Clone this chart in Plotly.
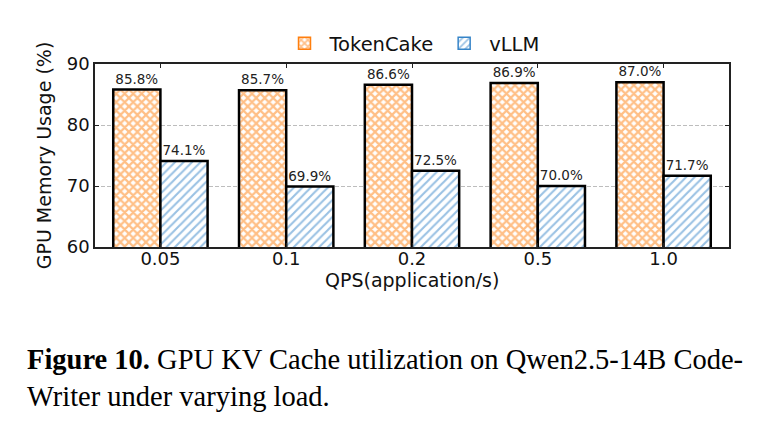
import plotly.graph_objects as go

qps = ["0.05", "0.1", "0.2", "0.5", "1.0"]
tokencake = [85.8, 85.7, 86.6, 86.9, 87.0]
vllm = [74.1, 69.9, 72.5, 70.0, 71.7]

ORANGE = "#ff7f0e"
BLUE = "#3584c8"
FONT = "DejaVu Sans"

fig = go.Figure()

series = [
    ("TokenCake", tokencake, ORANGE, "x", 6, 0.6),
    ("vLLM", vllm, BLUE, "/", 6, 0.35),
]

for name, vals, color, shape, size, sol in series:
    pat = dict(shape=shape, fgcolor=color, bgcolor="white",
               size=size, solidity=sol, fillmode="overlay")
    fig.add_trace(go.Bar(
        name=name, x=qps, y=vals, offsetgroup=name, showlegend=False,
        marker=dict(color="white", line=dict(color="black", width=2.5), pattern=pat),
        texttemplate="%{y:.1f}%", textposition="outside", cliponaxis=False,
        textfont=dict(family=FONT, size=13.5, color="#222"),
    ))
    # legend entry with coloured outline, like the reference
    fig.add_trace(go.Bar(
        name=name, x=[qps[0]], y=[None], offsetgroup=name, showlegend=True,
        marker=dict(color="white", line=dict(color=color, width=1.5), pattern=pat),
    ))

# page has an 8px body margin, so the figure is 8px smaller each way
fig.update_layout(
    width=769, height=421,
    margin=dict(l=87, r=48, t=56, b=182),
    paper_bgcolor="white", plot_bgcolor="white",
    barmode="group", bargap=0.25, bargroupgap=0,
    font=dict(family=FONT, size=18, color="#111"),
    legend=dict(orientation="h", x=0.5, xanchor="center", y=1.005, yanchor="bottom",
                font=dict(size=19.5), itemwidth=40, bgcolor="rgba(0,0,0,0)"),
    xaxis=dict(
        range=[-0.52, 4.52], automargin=False,
        ticks="inside", ticklen=4, tickcolor="#222", ticklabelstandoff=-5,
        showline=True, linecolor="#222", linewidth=1.5, mirror="ticks",
        tickfont=dict(size=18),
    ),
    yaxis=dict(
        range=[60, 90], dtick=10, automargin=False,
        title=dict(text="GPU Memory Usage (%)", font=dict(size=19), standoff=10),
        ticks="inside", ticklen=4, tickcolor="#222",
        showline=True, linecolor="#222", linewidth=1.5, mirror="ticks",
        showgrid=True, gridcolor="#bdbdbd", griddash="4px,2px", gridwidth=0.8,
        tickfont=dict(size=18), zeroline=False,
    ),
)

fig.add_annotation(
    text="QPS(application/s)", xref="paper", yref="paper", x=0.5, y=-0.18,
    xanchor="center", yanchor="middle", showarrow=False,
    font=dict(family=FONT, size=19, color="#111"),
)

caption = [
    ("<b>Figure 10.</b> GPU KV Cache utilization on Qwen2.5-14B Code-", -0.519),
    ("Writer under varying load.", -0.721),
]
for txt, y in caption:
    fig.add_annotation(
        text=txt, xref="paper", yref="paper", x=-0.11, y=y,
        xanchor="left", yanchor="top", showarrow=False, align="left",
        font=dict(family="Liberation Serif", size=28.5, color="black"),
    )

fig.write_html("out.html")
